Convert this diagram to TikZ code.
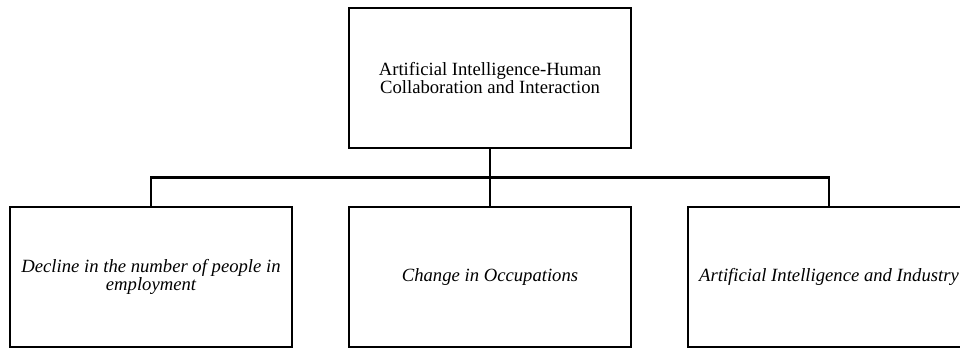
\documentclass[tikz,border=0pt]{standalone}
\usepackage{fontspec}
\setmainfont{Liberation Serif}
\begin{document}
\begin{tikzpicture}[x=0.75pt,y=-0.75pt,
  box/.style={draw=black,line width=2.1pt,fill=white,minimum width=282*0.75pt,minimum height=140*0.75pt,inner sep=0pt,align=center,font=\fontsize{14pt}{13.8pt}\selectfont},
  conn/.style={draw=black,line width=2.1pt}]
\useasboundingbox (0,0) rectangle (960,349);
\begin{scope}
\clip (0,0) rectangle (960,349);
\coordinate (bus) at (490,177.5);
\node[box] (top) at (490,78) {Artificial Intelligence-Human\\Collaboration and Interaction};
\node[box] (left) at (151,277) {\itshape Decline in the number of people in\\\itshape employment};
\node[box] (mid) at (490,277) {\itshape Change in Occupations};
\node[box] (right) at (829,277) {\itshape Artificial Intelligence and Industry};
\draw[conn] (top.south) -- (mid.north);
\draw[conn] (left.north) |- (bus) -| (right.north);
\end{scope}
\end{tikzpicture}
\end{document}
